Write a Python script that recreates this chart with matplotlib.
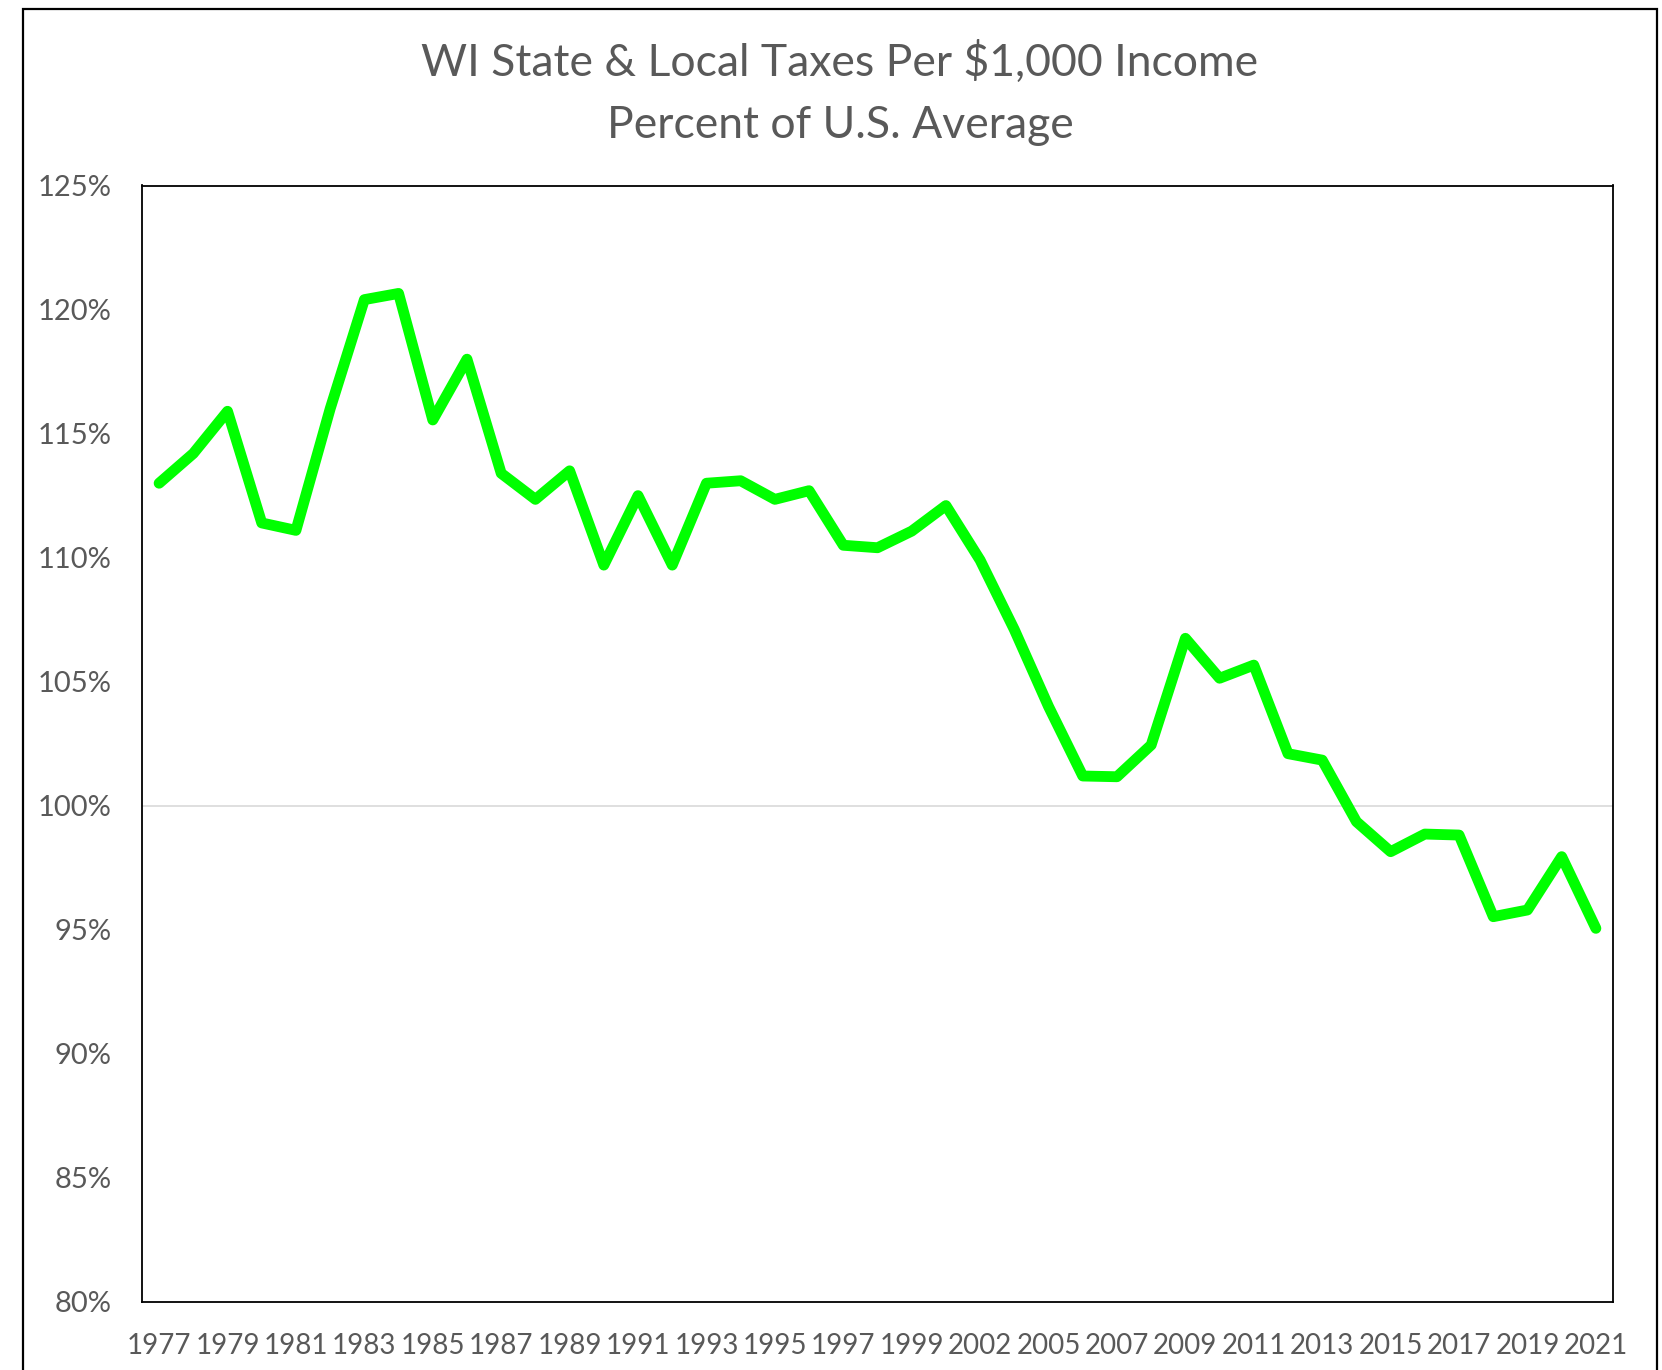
import matplotlib
matplotlib.use('Agg')
import matplotlib.pyplot as plt
from matplotlib.patches import Rectangle
from matplotlib.ticker import FixedLocator, FuncFormatter

# WI taxes per $1,000 of income as percent of the U.S. average
years = ['1977', '1978', '1979', '1980', '1981', '1982', '1983', '1984', '1985', '1986',
         '1987', '1988', '1989', '1990', '1991', '1992', '1993', '1994', '1995', '1996',
         '1997', '1998', '1999', '2000', '2002', '2004', '2005', '2006', '2007', '2008',
         '2009', '2010', '2011', '2012', '2013', '2014', '2015', '2016', '2017', '2018',
         '2019', '2020', '2021']
pct_of_us = [113.0, 114.2, 115.9, 111.4, 111.1, 116.0, 120.4, 120.65, 115.55, 118.0,
             113.4, 112.35, 113.5, 109.7, 112.5, 109.7, 113.0, 113.1, 112.35, 112.7,
             110.5, 110.4, 111.07, 112.1, 109.9, 107.1, 104.0, 101.2, 101.17, 102.45,
             106.75, 105.14, 105.67, 102.1, 101.84, 99.36, 98.15, 98.86, 98.82, 95.53,
             95.8, 97.95, 95.06]
y_ticks = [80, 85, 90, 95, 100, 105, 110, 115, 120, 125]

gray = '#595959'
plt.rcParams['font.family'] = ['Lato', 'DejaVu Sans']

W, H = 1662, 1370
fig = plt.figure(figsize=(W / 100, H / 100), dpi=100)

# outer chart frame (bottom edge runs off the image)
fig.patches.append(Rectangle((23 / W, -0.05), (1657 - 23) / W, (H - 9) / H + 0.05,
                             transform=fig.transFigure, fill=False,
                             edgecolor='black', linewidth=1.6))

ax = fig.add_axes([142 / W, (H - 1302) / H, (1613 - 142) / W, (1302 - 185.5) / H])

x = list(range(len(years)))
ax.plot(x, pct_of_us, color='#00FF00', linewidth=7.8, solid_joinstyle='round',
        solid_capstyle='round', zorder=3)
ax.axhline(100, color='#D9D9D9', linewidth=1.2, zorder=1)

ax.set_xlim(-0.5, len(years) - 0.5)
ax.set_ylim(80, 125)
ax.xaxis.set_major_locator(FixedLocator(x[::2]))
ax.set_xticklabels(years[::2])
ax.yaxis.set_major_locator(FixedLocator(y_ticks))
ax.yaxis.set_major_formatter(FuncFormatter(lambda v, p: f'{v:.0f}%'))
ax.tick_params(axis='both', length=0, colors=gray)
ax.tick_params(axis='y', pad=22, labelsize=21)
ax.tick_params(axis='x', pad=22, labelsize=20)
for s in ax.spines.values():
    s.set_color('black')
    s.set_linewidth(1.3)

fig.text(840 / W, 1 - 76 / H, 'WI State & Local Taxes Per $1,000 Income',
         ha='center', va='baseline', fontsize=32, color=gray)
fig.text(840 / W, 1 - 138 / H, 'Percent of U.S. Average',
         ha='center', va='baseline', fontsize=32, color=gray)

fig.savefig('out.png', dpi=100)
